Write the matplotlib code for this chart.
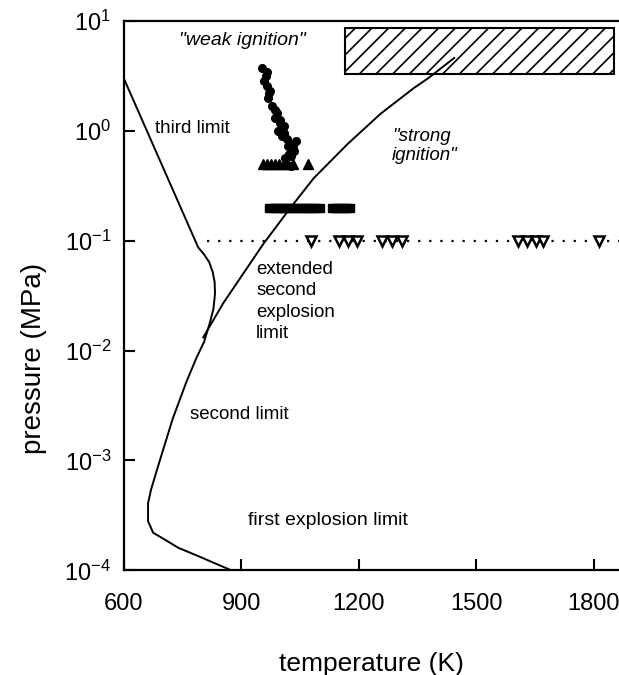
import matplotlib
matplotlib.use("Agg")
import matplotlib.pyplot as plt
from matplotlib.patches import Rectangle

plt.rcParams['font.family'] = ['Liberation Sans', 'DejaVu Sans']
plt.rcParams['hatch.linewidth'] = 1.2

# explosion limit curve (third / second / first limit), T in K, p in MPa
limit_T = [600, 790, 805, 818, 827, 832, 833, 829, 820, 805, 785, 760, 725, 692, 670, 662, 662, 675, 700, 740, 790, 835, 875]
limit_p = [3.0, 0.087, 0.075, 0.064, 0.052, 0.042, 0.033, 0.024, 0.018, 0.012, 0.0085, 0.0052, 0.0024, 0.001, 0.00055, 0.00041, 0.00028, 0.00022, 0.000195, 0.00016, 0.000135, 0.000115, 0.0001]

# extended second explosion limit
ext_T = [803, 854, 956, 1026, 1085, 1172, 1256, 1341, 1377, 1444]
ext_p = [0.0132, 0.027, 0.093, 0.2, 0.37, 0.76, 1.43, 2.45, 3.0, 4.6]

# weak ignition points
circ_T = [954, 962, 959, 967, 974, 969, 979, 992, 987, 1000, 1008, 995, 1005, 1018, 1031,
          1020, 1033, 1026, 1013, 1028, 1040, 1035, 1010, 965, 972, 985, 998, 1022]
circ_p = [3.74, 3.16, 2.85, 2.57, 2.31, 2.0, 1.69, 1.46, 1.31, 1.18, 1.11, 1.0, 0.90, 0.85, 0.76,
          0.73, 0.72, 0.59, 0.56, 0.48, 0.80, 0.66, 0.95, 3.4, 2.2, 1.55, 1.25, 0.62]

tri_T = [955, 965, 975, 985, 997, 1008, 1020, 1032, 1070]
tri_p = [0.5] * len(tri_T)

sq_T = [972, 980, 988, 996, 1004, 1012, 1020, 1028, 1036, 1044, 1052, 1060, 1068, 1076, 1084,
        1092, 1100, 1131, 1139, 1147, 1155, 1163, 1171, 1178]
sq_p = [0.2] * len(sq_T)

dtri_T = [1077, 1149, 1172, 1195, 1259, 1285, 1310, 1608, 1630, 1652, 1672, 1815]
dtri_p = [0.1] * len(dtri_T)

fig = plt.figure(figsize=(6.19, 6.75), dpi=100)
ax = fig.add_axes([0.2, 0.155, 0.8, 0.814])

ax.plot(limit_T, limit_p, color='black', lw=1.4)
ax.plot(ext_T, ext_p, color='black', lw=1.4)
ax.plot([813, 1865], [0.1, 0.1], color='black', lw=1.6, ls=(0, (1, 4)))

ax.plot(circ_T, circ_p, 'o', color='black', ms=5.5)
ax.plot(tri_T, tri_p, '^', color='black', ms=7)
ax.plot(sq_T, sq_p, 's', color='black', ms=5.5)
ax.plot(dtri_T, dtri_p, 'v', mfc='white', mec='black', mew=1.8, ms=7)

# hatched region
ax.add_patch(Rectangle((1164, 3.3), 1851 - 1164, 8.6 - 3.3, fill=False,
                       hatch='//', edgecolor='black', lw=1.5))

ax.text(902, 6.7, '"weak ignition"', style='italic', fontsize=14, ha='center', va='center')
ax.text(1285, 0.73, '"strong\nignition"', style='italic', fontsize=13.5, ha='left', va='center',
        linespacing=1.2)
ax.text(679, 1.06, 'third limit', fontsize=13.5, ha='left', va='center')
ax.text(938, 0.028, 'extended\nsecond\nexplosion\nlimit', fontsize=13.5, ha='left', va='center',
        linespacing=1.35)
ax.text(769, 0.0026, 'second limit', fontsize=13.5, ha='left', va='center')
ax.text(918, 0.000285, 'first explosion limit', fontsize=14, ha='left', va='center')

ax.set_yscale('log')
ax.set_xlim(600, 1865)
ax.set_ylim(1e-4, 10)
ax.set_xticks([600, 900, 1200, 1500, 1800])
ax.set_yticks([1e-4, 1e-3, 1e-2, 1e-1, 1, 10])
ax.minorticks_off()
ax.tick_params(axis='both', which='major', direction='in', length=8, width=1.5, labelsize=17)
ax.tick_params(axis='x', pad=16)
ax.tick_params(axis='y', pad=9)

for s in ['left', 'bottom', 'top']:
    ax.spines[s].set_linewidth(1.6)
ax.spines['right'].set_visible(False)

ax.set_xlabel('temperature (K)', fontsize=19, labelpad=27)
ax.set_ylabel('pressure (MPa)', fontsize=20, labelpad=15)
ax.yaxis.set_label_coords(-0.155, 0.385)

fig.savefig('out.png', dpi=100)
